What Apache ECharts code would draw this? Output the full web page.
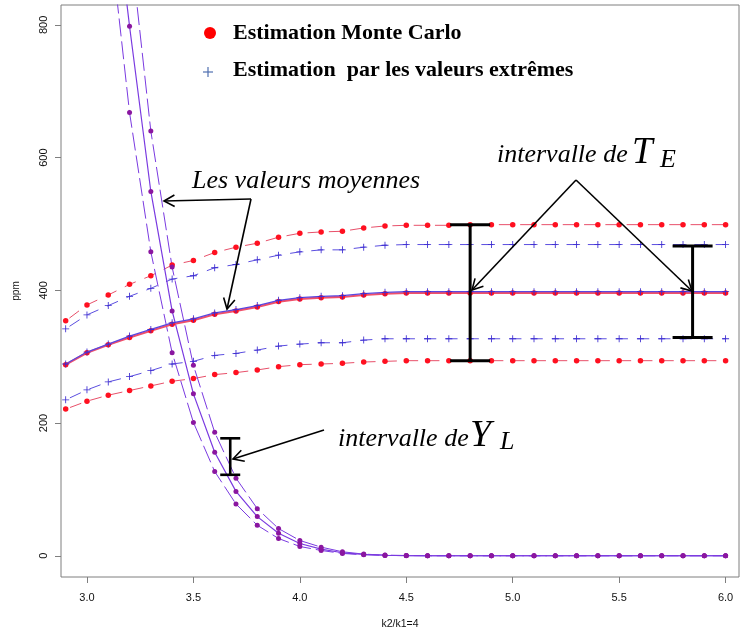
<!DOCTYPE html>
<html>
<head>
<meta charset="utf-8">
<title>ppm k2/k1=4</title>
<script src="https://cdn.jsdelivr.net/npm/echarts@6/dist/echarts.min.js"></script>
<style>
  html, body { margin: 0; padding: 0; background: #fff; }
  #chart { width: 740px; height: 632px; }
</style>
</head>
<body>
<div id="chart"></div>
<script>
// abscisse k2/k1, pas de 0.1
var xValues = [2.9, 3.0, 3.1, 3.2, 3.3, 3.4, 3.5, 3.6, 3.7, 3.8, 3.9, 4.0, 4.1, 4.2, 4.3, 4.4,
  4.5, 4.6, 4.7, 4.8, 4.9, 5.0, 5.1, 5.2, 5.3, 5.4, 5.5, 5.6, 5.7, 5.8, 5.9, 6.0]

// Monte Carlo (rouge)
var mcUpper = [354, 378, 393, 409, 422, 438, 445, 457, 465, 471, 480, 486, 488, 489, 494, 497,
  498, 498, 498, 499, 499, 499, 499, 499, 499, 499, 499, 499, 499, 499, 499, 499]
var mcMean = [288, 306, 318, 329, 339, 349, 355, 364, 369, 375, 383, 387, 389, 390, 393, 395,
  396, 396, 396, 396, 396, 396, 396, 396, 396, 396, 396, 396, 396, 396, 396, 396]
var mcLower = [221, 233, 242, 249, 256, 263, 267, 273, 276, 280, 285, 288, 289, 290, 292, 293,
  294, 294, 294, 294, 294, 294, 294, 294, 294, 294, 294, 294, 294, 294, 294, 294]

// valeurs extremes (bleu)
var evUpper = [342, 363, 377, 391, 403, 417, 422, 434, 439, 446, 453, 458, 461, 461, 465, 468,
  469, 469, 469, 469, 469, 469, 469, 469, 469, 469, 469, 469, 469, 469, 469, 469]
var evMean = [289, 307, 319, 331, 341, 351, 357, 366, 371, 377, 385, 389, 391, 392, 395, 397,
  398, 398, 398, 398, 398, 398, 398, 398, 398, 398, 398, 398, 398, 398, 398, 398]
var evLower = [235, 250, 262, 270, 279, 289, 293, 302, 305, 310, 316, 319, 321, 321, 325, 327,
  327, 327, 327, 327, 327, 327, 327, 327, 327, 327, 327, 327, 327, 327, 327, 327]

// courbes decroissantes (Y)
var yLower = [null, null, 957, 668, 458, 306, 201, 127, 78, 46, 26, 14, 8, 3.5, 1.5, 0.5,
  0.2, 0, 0, 0, 0, 0, 0, 0, 0, 0, 0, 0, 0, 0, 0, 0]
var yMean = [null, null, 1067, 798, 549, 369, 244, 156, 97, 59, 34, 18.5, 10, 4.5, 2, 0.8,
  0.3, 0, 0, 0, 0, 0, 0, 0, 0, 0, 0, 0, 0, 0, 0, 0]
var yUpper = [null, null, 1250, 932, 640, 435, 287, 186, 117, 71, 41, 23, 13, 6, 2.5, 1,
  0.4, 0, 0, 0, 0, 0, 0, 0, 0, 0, 0, 0, 0, 0, 0, 0]

// intervalles [x, bas, haut]
var teIntervals = [[4.80, 294, 499], [5.845, 329, 467]]
var ylIntervals = [[3.673, 122, 177]]

var xTicks = [3.0, 3.5, 4.0, 4.5, 5.0, 5.5, 6.0]
var yTicks = [0, 200, 400, 600, 800]

function pairs(ys) {
  return xValues.map(function(x, i) { return [x, ys[i]] })
}

var PLUS = 'path://M0,4.4H10V5.6H0Z M4.4,0H5.6V10H4.4Z'

function dashedSeries(data, color, symbol, symbolColor, symbolSize, dash, offset) {
  return {
    type: 'line',
    data: pairs(data),
    symbol: symbol,
    symbolSize: symbolSize,
    showAllSymbol: true,
    itemStyle: { color: symbolColor },
    lineStyle: { color: color, width: 1, type: dash || [12, 9.3], dashOffset: offset || 16.65 },
    z: 3
  }
}

function intervalSeries(data, half, width) {
  return {
    type: 'custom',
    data: data,
    z: 10,
    renderItem: function(params, api) {
      var top = api.coord([api.value(0), api.value(2)])
      var bot = api.coord([api.value(0), api.value(1)])
      var st = { stroke: '#000', lineWidth: width }
      return {
        type: 'group',
        children: [
          { type: 'line', shape: { x1: top[0], y1: top[1], x2: bot[0], y2: bot[1] }, style: st },
          { type: 'line', shape: { x1: top[0] - half, y1: top[1], x2: top[0] + half, y2: top[1] }, style: st },
          { type: 'line', shape: { x1: bot[0] - half, y1: bot[1], x2: bot[0] + half, y2: bot[1] }, style: st }
        ]
      }
    }
  }
}

// fleche ouverte a la R
function arrow(x1, y1, x2, y2) {
  var a = Math.atan2(y2 - y1, x2 - x1)
  var len = 12
  var sp = 0.5
  return [
    { type: 'line', shape: { x1: x1, y1: y1, x2: x2, y2: y2 }, style: { stroke: '#000', lineWidth: 1.6 }, z: 20 },
    { type: 'polyline', shape: { points: [
      [x2 - len * Math.cos(a - sp), y2 - len * Math.sin(a - sp)],
      [x2, y2],
      [x2 - len * Math.cos(a + sp), y2 - len * Math.sin(a + sp)]
    ] }, style: { stroke: '#000', fill: null, lineWidth: 1.6 }, z: 20 }
  ]
}

// texte place par sa ligne de base
function label(text, x, baseline, size, weight) {
  return {
    type: 'text', x: x, y: baseline - 0.3375 * size, z: 20,
    style: {
      text: text,
      font: weight + ' ' + size + 'px "Liberation Serif", "DejaVu Serif", serif',
      fill: '#000',
      verticalAlign: 'middle'
    }
  }
}

var graphics = [
  // legende
  { type: 'circle', shape: { cx: 210, cy: 33, r: 6 }, style: { fill: '#ff0000' }, z: 20 },
  { type: 'line', shape: { x1: 203, y1: 72, x2: 213, y2: 72 }, style: { stroke: '#4f6fb0', lineWidth: 1.2 }, z: 20 },
  { type: 'line', shape: { x1: 208, y1: 67, x2: 208, y2: 77 }, style: { stroke: '#4f6fb0', lineWidth: 1.2 }, z: 20 },
  label('Estimation Monte Carlo', 233, 41, 22, 'bold'),
  label('Estimation  par les valeurs extr\u00eames', 233, 78, 22, 'bold'),
  // annotations
  label('Les valeurs moyennes', 192, 190, 26, 'italic'),
  label('intervalle de ', 497, 164, 26, 'italic'),
  label('T', 632, 166, 37, 'italic'),
  label('E', 660, 169, 26, 'italic'),
  label('intervalle de ', 338, 448, 26, 'italic'),
  label('Y', 470, 449, 38, 'italic'),
  label('L', 500, 451, 26, 'italic')
]
graphics = graphics
  .concat(arrow(251, 199, 164, 201))
  .concat(arrow(251, 199, 227, 309))
  .concat(arrow(576, 180, 472, 290))
  .concat(arrow(576, 180, 692, 291))
  .concat(arrow(324, 430, 233, 459))

var chart = echarts.init(document.getElementById('chart'), null, { renderer: 'canvas' })
chart.setOption({
  animation: false,
  backgroundColor: '#fff',
  grid: {
    left: 61, top: 5, right: 1, bottom: 55,
    outerBoundsMode: 'none',
    containLabel: false,
    show: true, borderColor: '#7f7f7f', borderWidth: 1
  },
  xAxis: {
    type: 'value',
    min: 2.878,
    max: 6.063,
    name: 'k2/k1=4',
    nameLocation: 'middle',
    nameGap: 42,
    nameTextStyle: { fontSize: 10.5, color: '#111', fontFamily: 'Liberation Sans, Arial, sans-serif' },
    axisLine: { show: false, onZero: false },
    splitLine: { show: false },
    axisTick: { show: true, length: 6, customValues: xTicks, lineStyle: { color: '#7f7f7f' } },
    axisLabel: {
      customValues: xTicks,
      margin: 15,
      fontSize: 11,
      color: '#111',
      fontFamily: 'Liberation Sans, Arial, sans-serif',
      formatter: function(v) { return v.toFixed(1) }
    }
  },
  yAxis: {
    type: 'value',
    min: -32,
    max: 830,
    name: 'ppm',
    nameLocation: 'middle',
    nameGap: 40,
    nameTextStyle: { fontSize: 10, color: '#111', fontFamily: 'Liberation Sans, Arial, sans-serif' },
    axisLine: { show: false, onZero: false },
    splitLine: { show: false },
    axisTick: { show: true, length: 6, customValues: yTicks, lineStyle: { color: '#7f7f7f' } },
    axisLabel: {
      customValues: yTicks,
      rotate: 90,
      margin: 12,
      fontSize: 11,
      color: '#111',
      fontFamily: 'Liberation Sans, Arial, sans-serif'
    }
  },
  series: [
    dashedSeries(mcUpper, '#e8506a', 'circle', '#ff1020', 5.5),
    dashedSeries(mcLower, '#e8506a', 'circle', '#ff1020', 5.5),
    dashedSeries(evUpper, '#5b4ee0', PLUS, '#3a2ad0', 7),
    dashedSeries(evLower, '#5b4ee0', PLUS, '#3a2ad0', 7),
    {
      type: 'line', data: pairs(mcMean), symbol: 'circle', symbolSize: 5.5, showAllSymbol: true,
      itemStyle: { color: '#ff1020' }, lineStyle: { color: '#f0506a', width: 2.2 }, z: 4
    },
    {
      type: 'line', data: pairs(evMean), symbol: PLUS, symbolSize: 7, showAllSymbol: true,
      itemStyle: { color: '#3a2ad0' }, lineStyle: { color: '#5a48e0', width: 1.3 }, z: 5
    },
    dashedSeries(yLower, '#7a3ae0', 'circle', '#8a16a0', 5, [18, 5], 0),
    {
      type: 'line', data: pairs(yMean), symbol: 'circle', symbolSize: 5, showAllSymbol: true,
      itemStyle: { color: '#8a16a0' }, lineStyle: { color: '#7a3ae0', width: 1.2 }, z: 3
    },
    dashedSeries(yUpper, '#7a3ae0', 'circle', '#8a16a0', 5, [18, 5], 0),
    intervalSeries(teIntervals, 20, 3),
    intervalSeries(ylIntervals, 10, 2.6)
  ],
  graphic: graphics
})
</script>
</body>
</html>
